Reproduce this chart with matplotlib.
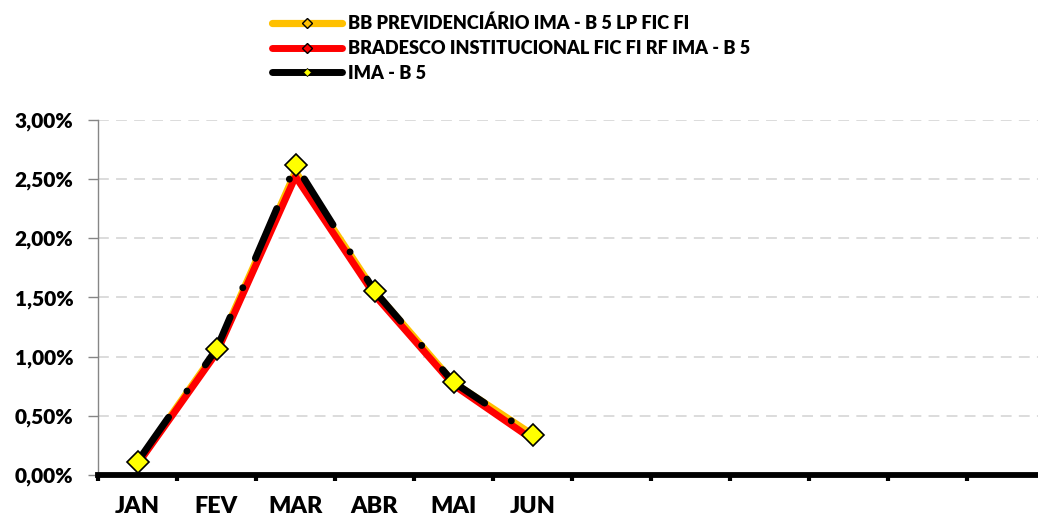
import numpy as np
import matplotlib.pyplot as plt
from matplotlib.lines import Line2D
from matplotlib.ticker import FuncFormatter, FixedLocator

plt.rcParams['font.family'] = ['Lato', 'DejaVu Sans']
plt.rcParams['font.weight'] = 'heavy'

# data (monthly returns, %)
months = ['JAN', 'FEV', 'MAR', 'ABR', 'MAI', 'JUN']
n_slots = 12
bb_prev = [0.10, 1.05, 2.56, 1.55, 0.78, 0.34]
bradesco = [0.09, 1.03, 2.52, 1.52, 0.76, 0.30]
ima_b5 = [0.113, 1.064, 2.618, 1.554, 0.783, 0.338]

labels = ['BB PREVIDENCIÁRIO IMA - B 5 LP FIC FI',
          'BRADESCO INSTITUCIONAL FIC FI RF IMA - B 5',
          'IMA - B 5']

W, H = 1038, 520
fig = plt.figure(figsize=(W / 100, H / 100), dpi=100)
ax = fig.add_axes([98 / W, 45 / H, 948 / W, 355.3 / H])

x = np.arange(len(months))
ax.plot(x, bb_prev, color='#FFC000', lw=5.2, solid_capstyle='round', zorder=3)
ax.plot(x, bradesco, color='#FF0000', lw=5.0, solid_capstyle='round', zorder=4)
ax.plot(x, ima_b5, color='black', lw=5.0, dash_capstyle='round',
        linestyle=(0, (7.8, 4.6, 0.01, 4.6)), zorder=5)
ax.plot(x, ima_b5, ls='none', marker='D', ms=11.5, mfc='#FFFF00',
        mec='black', mew=1.2, zorder=6)

ax.set_xlim(-0.5, n_slots - 0.5)
ax.set_ylim(0, 3.0)
ax.set_yticks(np.arange(0, 3.01, 0.5))
ax.yaxis.set_major_formatter(FuncFormatter(lambda v, p: f'{v:.2f}%'.replace('.', ',')))
ax.yaxis.grid(True, color='#D9D9D9', lw=1.3, ls=(0, (6, 4)))
ax.set_axisbelow(True)

ax.xaxis.set_major_locator(FixedLocator(np.arange(-0.5, n_slots, 1.0)))
ax.xaxis.set_major_formatter(FuncFormatter(lambda v, p: ''))
ax.xaxis.set_minor_locator(FixedLocator(x))
ax.set_xticklabels(months, minor=True)
ax.tick_params(axis='x', which='major', length=4, width=3, color='black', direction='out')
ax.tick_params(axis='x', which='minor', length=0, pad=15, labelsize=16.8)
ax.tick_params(axis='y', length=7.2, width=1, color='#868686', pad=10.5, labelsize=15)

for s in ['top', 'right']:
    ax.spines[s].set_visible(False)
ax.spines['left'].set_color('#868686')
ax.spines['left'].set_linewidth(1)
ax.spines['bottom'].set_color('black')
ax.spines['bottom'].set_linewidth(4.2)

handles = [
    Line2D([], [], color='#FFC000', lw=5.2, solid_capstyle='round', marker='D',
           ms=4.6, mfc='#FFC000', mec='black', mew=1.0),
    Line2D([], [], color='#FF0000', lw=5.0, solid_capstyle='round', marker='D',
           ms=4.6, mfc='#FF0000', mec='black', mew=1.0),
    Line2D([], [], color='black', lw=5.0, solid_capstyle='round', marker='D',
           ms=3.8, mfc='#FFFF00', mec='black', mew=0.6),
]
fig.legend(handles, labels, loc='upper left', bbox_to_anchor=(259 / W, 1 - 2 / H),
           frameon=False, fontsize=13.1, handlelength=3.85, handletextpad=0.33,
           labelspacing=0.42, borderpad=0.2)

fig.savefig('out.png', dpi=100)
